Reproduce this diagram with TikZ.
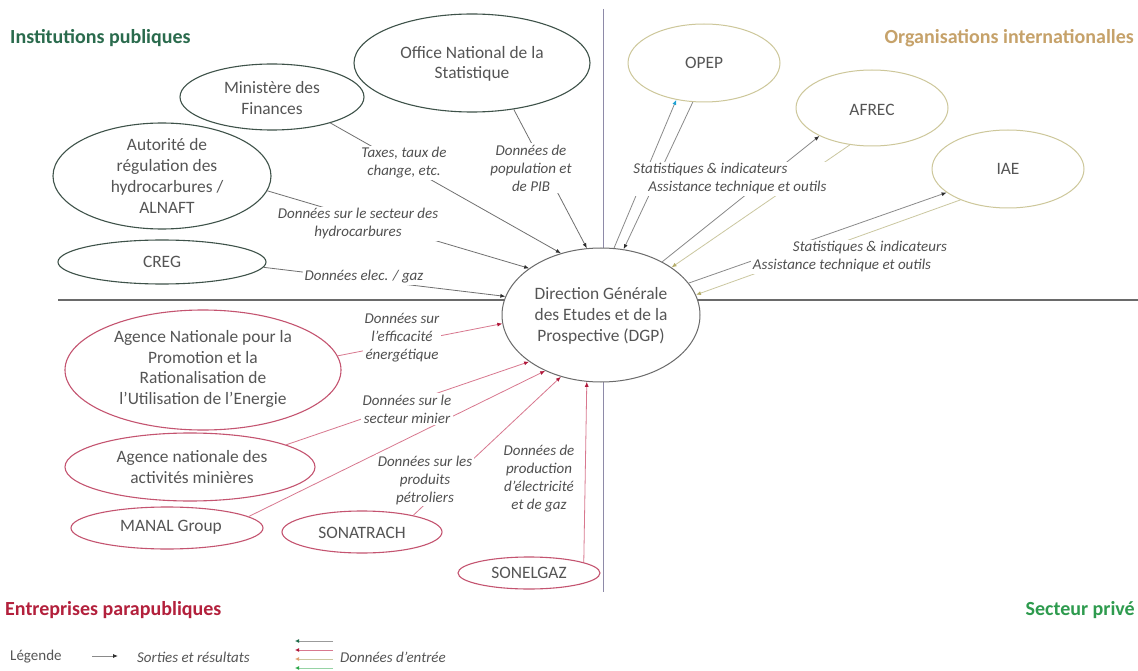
\documentclass[tikz,border=0pt]{standalone}
\usepackage{fontspec}
\setmainfont{Carlito}
\usetikzlibrary{shapes.geometric,arrows.meta}
\definecolor{publine}{HTML}{3E5249}
\definecolor{pubtitle}{HTML}{2A6B4D}
\definecolor{entline}{HTML}{C45470}
\definecolor{enttitle}{HTML}{B3203C}
\definecolor{orgline}{HTML}{CDC79A}
\definecolor{orgtitle}{HTML}{C6A26A}
\definecolor{privtitle}{HTML}{2E9B4E}
\definecolor{nodetext}{HTML}{555555}
\definecolor{labtext}{HTML}{505050}
\definecolor{pubconn}{HTML}{707070}
\definecolor{pubtip}{HTML}{2F2F2F}
\definecolor{entconn}{HTML}{D8788F}
\definecolor{enttip}{HTML}{B0183A}
\definecolor{orgconn}{HTML}{CBC7A0}
\definecolor{orgtip}{HTML}{B5AD6A}
\definecolor{outconn}{HTML}{8A8A8A}
\definecolor{cyantip}{HTML}{1FA3D4}
\definecolor{vdiv}{HTML}{8E8AA8}
\definecolor{hdiv}{HTML}{6A6A6A}
\definecolor{lgdgreen}{HTML}{1E6B4A}
\definecolor{lgtan}{HTML}{E0A070}
\definecolor{lggreen}{HTML}{2EA84A}
\begin{document}
\begin{tikzpicture}[x=1pt,y=-1pt,
  ell/.style={ellipse, draw, fill=white, inner sep=0pt},
  pubell/.style={ell, draw=publine, line width=1.1pt},
  entell/.style={ell, draw=entline, line width=1.1pt},
  orgell/.style={ell, draw=orgline, line width=1pt},
  ntext/.style={align=center, inner sep=0pt, text=nodetext, font=\fontsize{17.4}{20.7}\selectfont},
  lab/.style={align=center, fill=white, inner sep=1.5pt, text=labtext, font=\itshape\fontsize{15}{18}\selectfont},
  labl/.style={lab, align=left},
  title/.style={inner sep=0pt, font=\bfseries\fontsize{20}{24}\selectfont},
  pubarrow/.style={draw=pubconn, line width=0.8pt, -{Latex[length=5pt,width=4pt,color=pubtip]}},
  entarrow/.style={draw=entconn, line width=0.8pt, -{Latex[length=5pt,width=4pt,color=enttip]}},
  orgarrow/.style={draw=orgconn, line width=0.8pt, -{Latex[length=5pt,width=4pt,color=orgtip]}},
  outarrow/.style={draw=outconn, line width=0.8pt, -{Latex[length=5pt,width=4pt,color=pubtip]}},
  legtxt/.style={inner sep=0pt, anchor=west, text=nodetext, font=\fontsize{15}{18}\selectfont}
]
\useasboundingbox[fill=white] (0,0) rectangle (1138,671);

% dividers
\coordinate (vtop) at (603,9);
\coordinate (vbot) at (603,592);
\coordinate (hleft) at (58,300);
\coordinate (hright) at (1138,300);
\draw[vdiv, line width=1pt] (vtop) -- (vbot);
\draw[hdiv, line width=1.1pt] (hleft) -- (hright);

% titles
\node[title, anchor=west, text=pubtitle] (tpub) at (10,38) {Institutions publiques};
\node[title, anchor=east, text=orgtitle] (torg) at (1134,38) {Organisations internationalles};
\node[title, anchor=west, text=enttitle] (tent) at (5,610) {Entreprises parapubliques};
\node[title, anchor=east, text=privtitle] (tpriv) at (1135,610) {Secteur privé};

% institutions publiques
\node[pubell, minimum width=236, minimum height=98] (ons) at (472,63) {};
\node[ntext] (onst) at (472,64) {Office National de la\\Statistique};
\node[pubell, minimum width=184, minimum height=66] (mf) at (272,97) {};
\node[ntext] (mft) at (272,98) {Ministère des\\Finances};
\node[pubell, minimum width=218, minimum height=106] (aut) at (162,176) {};
\node[ntext] (autt) at (167,176) {Autorité de\\régulation des\\hydrocarbures /\\ALNAFT};
\node[pubell, minimum width=208, minimum height=44] (creg) at (162,262) {};
\node[ntext] (cregt) at (162,262) {CREG};

% DGP
\node[pubell, line width=1pt, draw=hdiv, minimum width=198, minimum height=134] (dgp) at (601,315) {};
\node[ntext] (dgpt) at (601,316) {Direction Générale\\des Etudes et de la\\Prospective (DGP)};

% entreprises parapubliques
\node[entell, minimum width=276, minimum height=120] (anp) at (203,370) {};
\node[ntext] (anpt) at (203,369) {Agence Nationale pour la\\Promotion et la\\Rationalisation de\\l’Utilisation de l’Energie};
\node[entell, minimum width=250, minimum height=68] (anam) at (190,467) {};
\node[ntext] (anamt) at (192,467) {Agence nationale des\\activités minières};
\node[entell, minimum width=192, minimum height=42] (manal) at (167,528) {};
\node[ntext] (manalt) at (171,527) {MANAL Group};
\node[entell, minimum width=160, minimum height=42] (sonat) at (362,532) {};
\node[ntext] (sonatt) at (362,533) {SONATRACH};
\node[entell, minimum width=142, minimum height=32] (sonel) at (529,573) {};
\node[ntext] (sonelt) at (529,573) {SONELGAZ};

% organisations internationales
\node[orgell, minimum width=152, minimum height=78] (opep) at (704,63) {};
\node[ntext] (opept) at (704,63) {OPEP};
\node[orgell, minimum width=152, minimum height=76] (afrec) at (872,108) {};
\node[ntext] (afrect) at (872,110) {AFREC};
\node[orgell, minimum width=152, minimum height=78] (iae) at (1008,169) {};
\node[ntext] (iaet) at (1008,169) {IAE};

% inputs from public institutions
\draw[pubarrow] (ons.-48) -- (dgp.102.7);
\draw[pubarrow] (mf.-24) -- (dgp.123.5);
\draw[pubarrow] (aut.-8.4) -- (dgp.147);
\draw[pubarrow] (creg.-3) -- (dgp.169.6);

% inputs from enterprises
\draw[entarrow] (anp.6) -- (dgp.185.5);
\draw[entarrow] (anam.13) -- (dgp.213);
\draw[entarrow] (manal.8) -- (dgp.225);
\draw[entarrow] (sonat.18) -- (dgp.237.7);
\draw[entarrow] (sonel.11) -- (dgp.258);

% international organisations
\draw[draw=outconn, line width=0.8pt, -{Latex[length=5pt,width=4pt,color=cyantip]}] (dgp.79.8) -- (opep.233.6);
\draw[outarrow] (opep.254.7) -- (dgp.71.6);
\draw[outarrow] (dgp.41) -- (afrec.208);
\draw[orgarrow] (afrec.239) -- (dgp.34);
\draw[outarrow] (dgp.20) -- (iae.201.5);
\draw[orgarrow] (iae.213) -- (dgp.12);

% labels
\node[lab] (l-ons) at (531,168) {Données de\\population et\\de PIB};
\node[lab] (l-mf) at (404,163) {Taxes, taux de\\change, etc.};
\node[lab] (l-aut) at (358,224) {Données sur le secteur des\\hydrocarbures};
\node[lab] (l-creg) at (364,277) {Données elec. / gaz};
\node[lab] (l-anp) at (402,338) {Données sur\\l’efficacité\\énergétique};
\node[lab] (l-anam) at (407,409) {Données sur le\\secteur minier};
\node[lab] (l-sonat) at (425,480) {Données sur les\\produits\\pétroliers};
\node[lab, inner xsep=5pt, inner ysep=6pt] (l-sonel) at (539,479) {Données de\\production\\d’électricité\\et de gaz};
\node[labl] (l-opep) at (730,179) {Statistiques \& indicateurs\\\hspace*{15pt}Assistance technique et outils};
\node[labl] (l-iae) at (850,257) {\hspace*{40pt}Statistiques \& indicateurs\\Assistance technique et outils};

% legend
\node[legtxt] (lg) at (10,657) {Légende};
\coordinate (lga) at (92,656);
\coordinate (lgb) at (118,656);
\draw[outarrow] (lga) -- (lgb);
\node[legtxt, font=\itshape\fontsize{15}{18}\selectfont] (lgout) at (137,657) {Sorties et résultats};
\coordinate (lg1a) at (333,641);
\coordinate (lg1b) at (295,641);
\coordinate (lg2a) at (333,650);
\coordinate (lg2b) at (295,650);
\coordinate (lg3a) at (333,659);
\coordinate (lg3b) at (295,659);
\coordinate (lg4a) at (333,668);
\coordinate (lg4b) at (295,668);
\draw[draw=pubconn!70, line width=0.8pt, -{Latex[length=4pt,width=4pt,color=lgdgreen]}] (lg1a) -- (lg1b);
\draw[draw=entconn, line width=0.8pt, -{Latex[length=4pt,width=4pt,color=enttip]}] (lg2a) -- (lg2b);
\draw[draw=orgconn, line width=0.8pt, -{Latex[length=4pt,width=4pt,color=lgtan]}] (lg3a) -- (lg3b);
\draw[draw=lggreen!50, line width=0.8pt, -{Latex[length=4pt,width=4pt,color=lggreen]}] (lg4a) -- (lg4b);
\node[legtxt, font=\itshape\fontsize{15}{18}\selectfont] (lgin) at (340,657) {Données d’entrée};
\end{tikzpicture}
\end{document}
